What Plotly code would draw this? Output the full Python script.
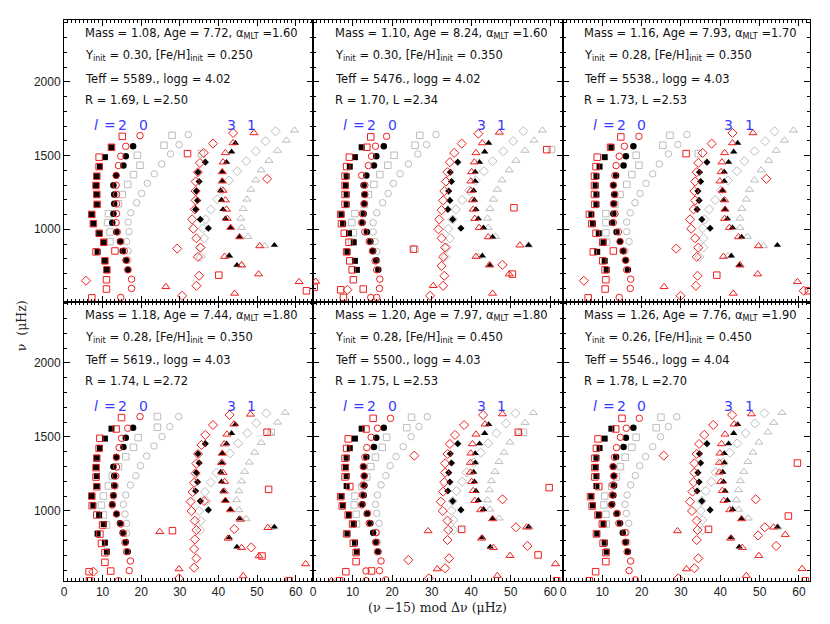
import plotly.graph_objects as go

# ---------------- observed frequencies (x = (nu-15) mod dnu, y = nu) ----------------
OBS_L0 = [(17.9,1563),(16.0,1495),(15.4,1432),(13.5,1365),(12.8,1299),(13.0,1236),(13.0,1173),(12.8,1106),(12.5,1045),(13.6,982),(14.5,917),(15.2,853),(16.0,790),(16.5,725)]
OBS_L2 = [(12.3,1556),(10.6,1489),(9.3,1425),(8.5,1360),(8.3,1297),(8.5,1236),(8.5,1169),(7.2,1101),(7.6,1038),(9.1,973),(10.3,912),(8.7,847),(10.6,786),(11.1,725)]
OBS_L1 = [(44.4,1585),(43.4,1525),(42.1,1455),(41.0,1389),(41.0,1326),(40.6,1263),(40.8,1198),(41.2,1135),(41.8,1072),(43.1,1011),(45.4,948),(54.5,892),(42.8,820),(44.8,757)]
OBS_L3 = [(36.6,1455),(34.7,1387),(35.0,1324),(34.3,1259),(34.6,1196),(34.1,1135),(35.3,1067),(37.4,1007)]

# ---------------- panel 1 ----------------
P1_R0 = [(19.7,1635),(16.0,1563),(14.7,1495),(14.1,1432),(13.5,1365),(13.5,1299),(13.6,1236),(13.6,1173),(13.6,1106),(13.5,1045),(13.8,982),(14.7,917),(15.6,853),(16.2,790),(16.6,725),(17.5,662),(17.5,599),(14.7,538)]
P1_R2 = [(15.1,1630),(12.3,1556),(9.1,1489),(9.1,1425),(8.5,1360),(8.3,1297),(8.5,1236),(8.6,1169),(7.2,1101),(7.6,1038),(9.1,973),(10.3,912),(8.3,847),(13.2,853),(10.6,786),(11.1,725),(11.0,658),(11.0,595),(7.2,535),(32.0,1513),(40.1,689),(62.8,583)]
P1_R1 = [(49.2,1653),(43.8,1585),(41.8,1518),(41.2,1455),(41.0,1389),(41.0,1326),(41.2,1263),(41.8,1198),(42.1,1135),(42.3,1072),(43.2,1011),(45.5,948),(50.7,887),(41.6,815),(46.0,757),(50.4,696),(26.4,610),(60.9,644),(44.2,565)]
P1_R3 = [(43.8,1653),(38.6,1581),(36.2,1518),(35.2,1450),(34.7,1387),(34.1,1324),(34.1,1259),(34.1,1196),(33.9,1135),(33.2,1067),(33.5,1004),(34.3,939),(35.3,876),(34.7,813),(35.0,685),(34.3,617),(30.6,549),(52.6,1342),(29.3,869),(5.7,651)]
P1_G0 = [(32.2,1642),(29.8,1574),(27.6,1511),(25.3,1443),(23.4,1376),(21.6,1311),(20.1,1243),(18.8,1180),(17.3,1112),(16.6,1049),(16.8,984),(16.2,917),(16.6,853),(16.6,790)]
P1_G2 = [(28.0,1637),(25.9,1570),(19.0,1502),(19.7,1434),(18.0,1371),(16.5,1304),(15.1,1236),(14.1,1173),(11.5,1106),(11.3,1045),(11.9,982),(11.9,917),(35.6,1513)]
P1_G1 = [(59.7,1671),(57.6,1603),(55.3,1534),(53.1,1466),(51.1,1401),(49.7,1333),(48.4,1270),(47.4,1203),(46.4,1139),(45.8,1074),(46.0,1011),(47.7,950),(52.0,887),(42.8,820),(46.0,757)]
P1_G3 = [(54.8,1664),(52.2,1597),(49.7,1529),(47.2,1462),(44.9,1394),(42.7,1331),(40.8,1263),(39.7,1203),(38.0,1135),(36.7,1067),(36.0,1007),(36.3,939),(35.4,876),(35.4,813)]

# ---------------- panel 2 ----------------
P2_R0 = [(18.6,1630),(15.8,1563),(14.8,1495),(14.0,1432),(12.3,1365),(13.1,1299),(13.1,1236),(12.9,1173),(12.5,1106),(12.3,1045),(13.1,982),(14.2,917),(15.0,853),(15.7,786),(16.1,725),(16.9,662),(16.8,599),(14.6,538),(16.1,538)]
P2_R2 = [(14.6,1626),(13.6,1556),(9.2,1489),(8.5,1425),(8.1,1360),(8.1,1297),(8.1,1236),(8.1,1169),(7.0,1101),(7.2,1038),(7.9,973),(9.1,912),(8.5,847),(9.3,786),(9.9,725),(10.2,658),(12.7,595),(7.0,590),(7.7,538),(59.1,1540),(50.8,1146),(25.4,865),(50.4,696),(0.3,606)]
P2_R1 = [(47.1,1657),(42.8,1585),(41.2,1518),(40.8,1455),(40.1,1389),(39.9,1326),(39.9,1263),(40.3,1198),(40.5,1135),(40.9,1072),(42.0,1011),(44.3,948),(52.3,892),(41.2,815),(44.6,757),(49.6,696),(30.4,617),(45.4,565),(0.7,646)]
P2_R3 = [(41.8,1648),(37.6,1581),(35.7,1518),(34.6,1455),(34.0,1387),(33.6,1324),(33.2,1259),(32.9,1196),(32.5,1130),(31.9,1067),(31.7,1000),(32.5,939),(33.4,876),(32.9,813),(32.5,752),(33.2,685),(32.9,617),(29.6,549),(47.9,759),(8.7,590)]
P2_G0 = [(31.1,1642),(28.7,1574),(26.5,1511),(24.1,1443),(22.0,1376),(20.3,1311),(19.0,1243),(17.6,1180),(16.1,1112),(15.2,1045),(15.2,982),(15.7,917),(16.1,849),(16.1,786)]
P2_G2 = [(27.0,1637),(25.8,1570),(20.5,1502),(18.9,1434),(16.9,1371),(15.4,1304),(14.0,1236),(13.0,1169),(10.6,1106),(9.8,1045),(10.2,977),(9.8,914),(60.3,1540),(25.8,865)]
P2_G1 = [(58.0,1671),(55.9,1603),(53.6,1534),(51.3,1466),(49.6,1401),(47.8,1333),(46.6,1270),(45.6,1203),(44.7,1139),(44.1,1074),(44.3,1011),(46.2,950),(54.5,892),(41.8,815),(44.7,757)]
P2_G3 = [(53.2,1664),(50.6,1597),(48.1,1529),(45.4,1462),(43.2,1394),(41.1,1331),(39.5,1263),(37.7,1198),(36.1,1135),(35.3,1067),(34.2,1004),(34.6,939),(33.8,876),(33.4,813)]

# ---------------- panel 3 ----------------
P3_R0 = [(19.3,1630),(15.6,1563),(14.3,1495),(13.5,1432),(13.2,1365),(12.8,1299),(13.2,1236),(12.8,1173),(13.2,1106),(12.8,1045),(14.1,982),(14.5,917),(15.4,853),(15.9,790),(16.2,725),(17.2,662),(17.1,599),(14.3,538)]
P3_R2 = [(14.7,1626),(12.1,1556),(8.7,1489),(8.4,1425),(8.0,1360),(8.0,1297),(8.0,1236),(8.1,1169),(6.7,1101),(7.3,1038),(8.4,973),(10.1,912),(7.7,847),(12.8,853),(10.1,786),(10.7,725),(10.9,658),(10.7,595),(6.4,535),(31.3,1513),(39.1,689),(62.4,583)]
P3_R1 = [(48.3,1653),(43.1,1585),(41.1,1518),(40.4,1455),(40.2,1389),(39.9,1326),(40.5,1263),(41.1,1198),(41.2,1135),(41.1,1072),(42.3,1011),(44.6,948),(49.7,887),(40.8,815),(45.0,757),(49.5,696),(25.7,610),(59.6,644),(43.3,565)]
P3_R3 = [(43.1,1653),(37.8,1581),(35.5,1518),(34.4,1450),(34.0,1387),(33.6,1324),(33.4,1259),(33.6,1196),(33.2,1135),(32.3,1067),(32.6,1004),(33.6,939),(34.4,876),(34.0,813),(34.2,685),(33.8,617),(29.9,549),(51.7,1342),(28.8,869),(5.3,651),(61.2,583)]
P3_G0 = [(31.5,1642),(29.2,1574),(26.8,1511),(24.5,1443),(22.8,1376),(21.1,1311),(19.6,1243),(18.3,1180),(17.1,1112),(16.2,1049),(16.2,984),(16.8,917),(15.8,853)]
P3_G2 = [(27.2,1637),(25.4,1570),(18.6,1502),(19.3,1434),(17.5,1371),(16.2,1304),(14.5,1236),(13.2,1169),(10.9,1106),(10.9,1045),(10.9,977),(11.1,912),(34.4,1513)]
P3_G1 = [(58.6,1671),(56.3,1603),(54.2,1534),(52.3,1466),(50.4,1401),(48.7,1333),(47.4,1270),(46.6,1203),(45.5,1139),(45.0,1074),(45.0,1011),(46.9,950),(51.0,887),(41.9,820),(45.0,757)]
P3_G3 = [(53.8,1664),(51.4,1597),(48.7,1529),(46.1,1462),(44.2,1394),(41.9,1331),(40.2,1263),(38.7,1198),(37.2,1135),(36.0,1067),(35.5,1007),(35.7,939),(35.7,876),(34.7,813)]

# ---------------- panel 4 ----------------
P4_R0 = [(19.7,1638),(16.5,1559),(14.9,1491),(14.3,1428),(13.6,1362),(13.6,1297),(13.4,1236),(13.2,1169),(12.8,1103),(12.5,1040),(13.6,979),(14.7,912),(15.4,849),(15.8,786),(16.2,725),(17.2,662),(16.9,597),(14.1,529)]
P4_R2 = [(14.9,1631),(13.5,1554),(9.3,1491),(9.1,1423),(8.5,1356),(8.3,1293),(8.3,1229),(8.5,1164),(7.2,1101),(7.3,1036),(8.5,973),(10.0,905),(9.3,844),(9.7,781),(10.6,718),(10.6,653),(12.1,594),(6.5,590),(6.6,529),(52.6,1532),(53.0,1146),(28.1,867),(51.3,696),(58.3,529)]
P4_R1 = [(48.3,1653),(44.0,1586),(42.2,1518),(41.5,1452),(41.0,1389),(40.8,1326),(41.2,1259),(41.6,1198),(41.5,1133),(41.8,1070),(43.1,1007),(45.7,943),(52.8,887),(42.5,815),(46.0,752),(50.5,696),(24.8,860),(29.8,608),(62.6,642),(46.4,561)]
P4_R3 = [(42.9,1649),(38.6,1581),(36.6,1514),(35.6,1446),(34.7,1385),(34.3,1320),(34.1,1254),(33.7,1191),(33.3,1128),(32.8,1063),(33.0,1000),(33.9,934),(34.3,871),(33.9,808),(33.7,743),(34.3,680),(33.7,617),(29.8,545),(36.3,1067),(44.1,878),(48.5,754),(7.6,590)]
P4_G0 = [(29.7,1638),(27.4,1570),(25.4,1503),(23.3,1439),(21.4,1371),(19.8,1306),(18.6,1238),(17.2,1175),(16.0,1108),(15.4,1045),(15.8,979),(16.2,916),(16.2,849)]
P4_G2 = [(24.2,1638),(24.2,1566),(19.2,1496),(18.0,1430),(16.0,1367),(14.1,1299),(12.5,1236),(11.5,1169),(10.2,1101),(9.7,1040),(10.2,973),(11.0,905),(53.7,1532)]
P4_G1 = [(57.3,1665),(55.3,1599),(53.3,1525),(51.1,1462),(49.4,1396),(48.0,1329),(46.8,1266),(46.0,1202),(45.3,1135),(44.7,1074),(45.3,1007),(47.2,946),(53.7,887)]
P4_G3 = [(52.4,1660),(49.8,1593),(47.5,1525),(45.1,1457),(43.0,1389),(41.0,1324),(39.5,1259),(38.0,1193),(36.5,1128),(36.9,1067),(35.0,1000),(35.4,934),(35.3,871)]

# ---------------- panel 5 ----------------
P5_R0 = [(19.6,1626),(16.3,1559),(14.7,1498),(13.6,1428),(13.1,1363),(12.7,1300),(12.9,1237),(12.7,1176),(12.5,1108),(12.3,1041),(13.8,984),(14.2,917),(15.9,854),(15.8,788),(16.3,725),(17.2,662),(16.8,597),(13.4,595),(18.4,534),(13.4,529)]
P5_R2 = [(15.2,1626),(13.4,1554),(8.9,1487),(8.5,1423),(8.1,1356),(8.1,1293),(8.1,1230),(9.3,1165),(7.0,1097),(7.4,1034),(8.9,973),(10.0,912),(8.5,845),(10.2,782),(10.9,719),(10.9,658),(8.3,590),(14.8,595),(6.7,529),(51.9,1532),(59.7,1158),(37.6,876),(56.9,703),(61.6,529)]
P5_R1 = [(47.9,1655),(43.5,1586),(41.2,1518),(40.3,1453),(39.9,1390),(39.8,1327),(39.8,1261),(40.1,1198),(40.5,1137),(40.9,1070),(42.4,1007),(45.4,946),(54.0,890),(42.6,815),(45.6,752),(49.8,698),(29.1,865),(31.4,608),(61.3,642),(46.6,563),(4.7,529)]
P5_R3 = [(43.0,1649),(38.2,1581),(35.9,1514),(34.6,1453),(34.0,1385),(33.4,1322),(33.4,1259),(33.2,1194),(32.9,1131),(32.3,1063),(32.8,1000),(34.0,935),(34.2,872),(34.0,804),(34.4,680),(33.4,613),(29.3,545),(25.6,1374),(47.9,1079),(51.3,890),(54.2,764),(24.1,669)]
P5_G0 = [(28.9,1637),(26.8,1570),(24.8,1502),(22.8,1435),(21.0,1367),(19.5,1306),(18.4,1239),(17.2,1176),(16.3,1108),(15.8,1045),(16.1,984),(16.7,917),(16.1,854),(16.3,788)]
P5_G2 = [(24.9,1633),(23.7,1563),(18.6,1498),(17.5,1430),(15.8,1363),(14.6,1300),(13.6,1230),(12.4,1165),(10.6,1101),(10.4,1041),(10.9,978),(11.0,912),(53.2,1532)]
P5_G1 = [(55.7,1664),(53.6,1597),(52.1,1532),(49.8,1464),(48.3,1396),(47.0,1333),(46.0,1266),(45.1,1203),(44.6,1142),(44.1,1074),(44.7,1011),(47.1,951),(54.7,890)]
P5_G3 = [(51.2,1660),(48.8,1592),(46.4,1525),(44.3,1457),(42.4,1394),(40.7,1327),(38.8,1261),(37.7,1198),(36.3,1135),(35.3,1068),(35.0,1002),(35.5,939),(35.5,872)]

# ---------------- panel 6 ----------------
P6_R0 = [(19.4,1626),(16.1,1559),(14.6,1498),(13.6,1428),(13.1,1363),(12.7,1300),(12.9,1237),(12.7,1176),(12.5,1108),(12.3,1041),(13.8,984),(14.2,917),(15.8,854),(15.8,788),(16.3,725),(17.2,662),(16.8,597),(18.4,534)]
P6_R2 = [(15.0,1626),(13.4,1554),(8.9,1487),(8.5,1423),(8.1,1356),(8.1,1293),(8.1,1230),(9.1,1165),(7.0,1097),(7.4,1034),(8.9,973),(10.0,912),(8.5,845),(10.2,782),(10.9,719),(10.9,658),(8.3,590),(6.7,529),(59.6,1324),(57.3,966),(37.0,876),(61.6,529)]
P6_R1 = [(47.9,1655),(43.5,1586),(41.2,1518),(40.3,1453),(39.9,1390),(39.8,1327),(39.8,1261),(40.1,1198),(40.5,1137),(40.9,1070),(42.4,1007),(45.4,946),(53.5,890),(42.6,815),(45.6,752),(49.8,698),(29.1,865),(31.4,608),(56.5,840),(60.8,610),(46.6,563)]
P6_R3 = [(43.0,1649),(38.2,1581),(35.9,1514),(34.6,1453),(34.0,1385),(33.4,1322),(33.4,1259),(33.2,1194),(32.9,1131),(32.3,1063),(32.8,1000),(34.0,935),(34.2,872),(34.0,804),(34.4,680),(33.4,613),(29.3,545),(25.6,1374),(49.0,1079),(51.3,890),(49.6,835),(54.2,764)]
P6_G0 = [(28.9,1637),(26.8,1570),(24.8,1502),(22.8,1435),(21.0,1367),(19.5,1306),(18.4,1239),(17.2,1176),(16.3,1108),(15.8,1045),(16.1,984),(16.7,917),(16.1,854),(16.3,788)]
P6_G2 = [(24.9,1633),(23.7,1563),(18.6,1498),(17.5,1430),(15.8,1363),(14.6,1300),(13.6,1230),(12.4,1165),(10.6,1101),(10.4,1041),(10.9,978),(11.0,912)]
P6_G1 = [(55.7,1664),(53.6,1597),(52.1,1532),(49.8,1464),(48.3,1396),(47.0,1333),(46.0,1266),(45.1,1203),(44.6,1142),(44.1,1074),(44.7,1011),(47.1,951),(54.7,890)]
P6_G3 = [(51.2,1660),(48.8,1592),(46.4,1525),(44.3,1457),(42.4,1394),(40.7,1327),(38.8,1261),(37.7,1198),(36.3,1135),(35.3,1068),(35.0,1002),(35.5,939),(35.5,872)]

# ---------------- model parameters (panel texts) ----------------
MASS = ["1.08", "1.10", "1.16", "1.18", "1.20", "1.26"]
AGE = ["7.72", "8.24", "7.93", "7.44", "7.97", "7.76"]
ALPHA = ["1.60", "1.60", "1.70", "1.80", "1.80", "1.90"]
YINIT = ["0.30", "0.30", "0.28", "0.28", "0.28", "0.26"]
FEH = ["0.250", "0.350", "0.350", "0.350", "0.450", "0.450"]
TEFF = ["5589.", "5476.", "5538.", "5619.", "5500.", "5546."]
LOGG = ["4.02", "4.02", "4.03", "4.03", "4.03", "4.04"]
RAD = ["1.69", "1.70", "1.73", "1.74", "1.75", "1.78"]
LUM = ["2.50", "2.34", "2.53", "2.72", "2.53", "2.70"]

X_RANGES = [[0, 64.5], [0, 63.2], [0, 62.8]]
Y_RANGES = [[507, 2419], [527, 2412]]
X_TICKS = [0, 10, 20, 30, 40, 50, 60]
Y_TICKS = [1000, 1500, 2000]

PANELS = [
    (P1_R0, P1_R2, P1_R1, P1_R3, P1_G0, P1_G2, P1_G1, P1_G3),
    (P2_R0, P2_R2, P2_R1, P2_R3, P2_G0, P2_G2, P2_G1, P2_G3),
    (P3_R0, P3_R2, P3_R1, P3_R3, P3_G0, P3_G2, P3_G1, P3_G3),
    (P4_R0, P4_R2, P4_R1, P4_R3, P4_G0, P4_G2, P4_G1, P4_G3),
    (P5_R0, P5_R2, P5_R1, P5_R3, P5_G0, P5_G2, P5_G1, P5_G3),
    (P6_R0, P6_R2, P6_R1, P6_R3, P6_G0, P6_G2, P6_G1, P6_G3),
]

RED = "#f01e1e"
GRAY = "#bdbdbd"
BLUE = "#3a3aff"
FONT = "DejaVu Sans"
TICKFONT = "Liberation Sans"
SERIF = "DejaVu Serif"

# page body has an 8px margin: figure is shrunk so the plot area lands where the reference has it
W, H = 814, 608
ML, MR, MT, MB = 56, 12, 12, 35
pw, ph = W - ML - MR, H - MT - MB
col_px = [0, 249, 499, 746]
row_px = [0, 279, 561]  # from bottom
xdom = [[col_px[i] / pw, col_px[i + 1] / pw] for i in range(3)]
ydom_bottom = [0, row_px[1] / ph]
ydom_top = [row_px[1] / ph, 1]

fig = go.Figure()

def add(pts, symbol, color, size, n, filled=False):
    xs = [p[0] for p in pts]
    ys = [p[1] for p in pts]
    if filled:
        marker = dict(symbol=symbol, size=size, color=color, line=dict(width=0))
    else:
        marker = dict(symbol=symbol + "-open", size=size, color=color, line=dict(width=1, color=color))
    fig.add_trace(go.Scatter(x=xs, y=ys, mode="markers", marker=marker,
                             xaxis="x" + ("" if n == 1 else str(n)),
                             yaxis="y" + ("" if n == 1 else str(n)),
                             hoverinfo="skip", showlegend=False))

for i, (r0, r2, r1, r3, g0, g2, g1, g3) in enumerate(PANELS):
    n = i + 1
    # uncorrected model (gray)
    add(g2, "square", GRAY, 6.5, n)
    add(g0, "circle", GRAY, 6.5, n)
    add(g3, "diamond", GRAY, 7, n)
    add(g1, "triangle-up", GRAY, 7, n)
    # observations (black)
    add(OBS_L2, "square", "black", 6, n, filled=True)
    add(OBS_L0, "circle", "black", 6.5, n, filled=True)
    add(OBS_L3, "diamond", "black", 5.5, n, filled=True)
    add(OBS_L1, "triangle-up", "black", 6.5, n, filled=True)
    # corrected model (red)
    add(r2, "square", RED, 6.5, n)
    add(r0, "circle", RED, 6.5, n)
    add(r3, "diamond", RED, 7, n)
    add(r1, "triangle-up", RED, 7, n)

layout = dict(width=W, height=H, margin=dict(l=ML, r=MR, t=MT, b=MB),
              paper_bgcolor="white", plot_bgcolor="white", showlegend=False,
              font=dict(family=FONT, size=11, color="#222"))

annotations = []
for i in range(6):
    n = i + 1
    row, col = divmod(i, 3)
    sfx = "" if n == 1 else str(n)
    xa = dict(domain=xdom[col], range=X_RANGES[col], anchor="y" + sfx,
              showline=True, linecolor="black", linewidth=1, mirror="ticks",
              ticks="inside", ticklen=6, tickcolor="black", tickwidth=1,
              tickmode="array", tickvals=X_TICKS,
              minor=dict(dtick=1, tick0=0, ticks="inside", ticklen=3, tickcolor="black"),
              showgrid=False, zeroline=False, showticklabels=(row == 1),
              tickfont=dict(family=TICKFONT, size=12, color="#222"))
    ya = dict(domain=ydom_top if row == 0 else ydom_bottom, range=Y_RANGES[row], anchor="x" + sfx,
              showline=True, linecolor="black", linewidth=1, mirror="ticks",
              ticks="inside", ticklen=6, tickcolor="black", tickwidth=1,
              tickmode="array", tickvals=Y_TICKS,
              minor=dict(dtick=100, tick0=0, ticks="inside", ticklen=3, tickcolor="black"),
              showgrid=False, zeroline=False, showticklabels=(col == 0),
              tickfont=dict(family=TICKFONT, size=12, color="#222"))
    layout["xaxis" + sfx] = xa
    layout["yaxis" + sfx] = ya

    xr = "x" + sfx + " domain"
    yr = "y" + sfx + " domain"
    lines = [
        "Mass = %s, Age = %s, α<sub>MLT</sub> =%s" % (MASS[i], AGE[i], ALPHA[i]),
        "Y<sub>init</sub> = %s, [Fe/H]<sub>init</sub> = %s" % (YINIT[i], FEH[i]),
        "Teff = %s, logg = %s" % (TEFF[i], LOGG[i]),
        "R = %s, L =%s" % (RAD[i], LUM[i]),
    ]
    for txt, yy in zip(lines, [0.951, 0.873, 0.791, 0.716]):
        annotations.append(dict(text=txt, xref=xr, yref=yr, x=0.078, y=yy, xanchor="left", yanchor="middle",
                                showarrow=False, font=dict(family=FONT, size=11.5, color="#111")))
    for txt, xx in [("<i>l</i>", 0.128), ("=", 0.185), ("2", 0.235), ("0", 0.318), ("3", 0.672), ("1", 0.755)]:
        annotations.append(dict(text=txt, xref=xr, yref=yr, x=xx, y=0.628, xanchor="center", yanchor="middle",
                                showarrow=False, font=dict(family=FONT, size=14, color=BLUE)))

annotations.append(dict(text="ν  (μHz)", xref="paper", yref="paper", x=-0.057, y=0.455, textangle=-90,
                        xanchor="center", yanchor="middle", showarrow=False,
                        font=dict(family=SERIF, size=12.5, color="#222")))
annotations.append(dict(text="(ν −15) mod Δν (μHz)", xref="paper", yref="paper", x=0.501, y=-0.048,
                        xanchor="center", yanchor="middle", showarrow=False,
                        font=dict(family=SERIF, size=12.5, color="#222")))
layout["annotations"] = annotations

fig.update_layout(**layout)
fig.write_html("out.html")
